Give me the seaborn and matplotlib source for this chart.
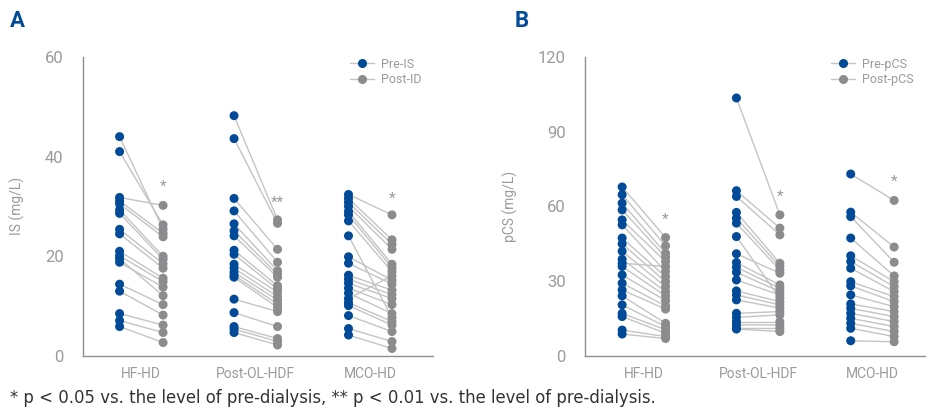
import matplotlib.pyplot as plt
import numpy as np
import pandas as pd
import seaborn as sns
from matplotlib.lines import Line2D

groups = ["HF-HD", "Post-OL-HDF", "MCO-HD"]

# Panel A: IS (mg/L), pre / post, paired in order
is_hf_pre = [44.0, 41.0, 31.8, 31.1, 30.5, 29.3, 28.6, 25.4, 24.5, 21.0, 20.1, 18.8, 19.5, 14.4, 13.0, 8.5, 7.1, 5.9]
is_hf_post = [25.4, 26.3, 30.2, 24.6, 23.9, 20.0, 19.4, 18.5, 17.6, 15.6, 14.9, 13.8, 12.1, 10.3, 8.2, 6.2, 4.7, 2.7]
is_ol_pre = [48.2, 43.6, 31.6, 29.1, 26.5, 25.1, 24.1, 21.2, 20.4, 18.4, 17.6, 16.8, 16.2, 15.8, 11.4, 8.7, 5.9, 5.4, 4.7]
is_ol_post = [27.3, 26.6, 21.4, 18.8, 17.1, 16.4, 15.8, 14.1, 13.4, 12.8, 11.9, 11.2, 10.4, 9.7, 8.9, 5.9, 3.5, 2.9, 2.2]
is_mco_pre = [32.4, 31.6, 30.8, 30.0, 29.0, 28.3, 27.1, 24.1, 19.9, 18.6, 16.2, 15.4, 14.6, 13.6, 12.6, 11.5, 10.7, 10.1, 8.1, 5.5, 4.2]
is_mco_post = [28.3, 23.3, 22.4, 21.4, 18.4, 17.7, 16.9, 7.7, 15.2, 14.4, 13.2, 12.3, 11.5, 10.3, 8.5, 16.1, 6.9, 6.2, 4.9, 2.9, 1.5]

# Panel B: pCS (mg/L), pre / post, paired in order
pcs_hf_pre = [67.8, 64.7, 61.3, 58.6, 54.6, 52.6, 47.3, 45.0, 42.0, 38.8, 37.2, 35.9, 32.5, 29.2, 26.5, 24.1, 20.5, 17.1, 15.8, 10.4, 8.8]
pcs_hf_post = [47.5, 44.2, 41.2, 39.6, 37.9, 33.9, 31.8, 29.8, 27.8, 25.8, 35.9, 24.1, 22.2, 20.1, 18.8, 13.1, 11.8, 10.5, 9.1, 7.8, 7.0]
pcs_ol_pre = [103.5, 66.3, 64.0, 57.6, 55.3, 53.3, 47.9, 41.0, 37.5, 35.6, 33.6, 30.5, 26.1, 24.5, 22.5, 17.1, 15.5, 13.8, 12.5, 11.1, 10.8]
pcs_ol_post = [56.6, 51.3, 48.6, 37.2, 35.9, 34.5, 23.2, 33.2, 28.5, 27.2, 25.8, 24.5, 21.8, 20.5, 19.2, 17.8, 16.5, 13.8, 12.4, 11.1, 9.8]
pcs_mco_pre = [73.0, 57.7, 55.9, 47.3, 40.2, 37.9, 35.2, 29.8, 28.1, 24.5, 20.9, 19.1, 17.1, 15.1, 13.1, 11.1, 6.1]
pcs_mco_post = [62.4, 43.7, 37.6, 32.1, 29.8, 27.8, 25.8, 23.8, 21.8, 19.8, 17.8, 15.8, 13.8, 11.8, 9.8, 7.8, 5.7]

# significance marks above the post-dialysis column
is_stars = ["*", "**", "*"]
is_star_y = [34.0, 30.8, 31.6]
pcs_stars = ["*", "*", "*"]
pcs_star_y = [54.5, 64.0, 70.0]

BLUE = "#004a97"
DOT_GRAY = "#8c8c8e"
LINE_GRAY = "#c4c4c4"
TEXT_GRAY = "#9b9b9b"
AXIS_GRAY = "#8f8f8f"

sns.set_style("white")
plt.rcParams["font.family"] = ["Roboto", "DejaVu Sans"]


def long_table(pre_lists, post_lists):
    rows = []
    for g, (pre, post) in enumerate(zip(pre_lists, post_lists)):
        for i, (a, b) in enumerate(zip(pre, post)):
            rows.append({"pair": f"{g}-{i}", "time": "pre", "x": g - 0.19, "value": a})
            rows.append({"pair": f"{g}-{i}", "time": "post", "x": g + 0.19, "value": b})
    return pd.DataFrame(rows)


def draw_panel(ax, df, ymax, step, ylabel, stars, star_y, legend_labels, xlim):
    sns.lineplot(data=df, x="x", y="value", units="pair", estimator=None,
                 color=LINE_GRAY, linewidth=1.0, ax=ax, legend=False, zorder=1)
    sns.scatterplot(data=df, x="x", y="value", hue="time",
                    palette={"pre": BLUE, "post": DOT_GRAY},
                    s=42, linewidth=0, ax=ax, legend=False, zorder=2)
    for g, (s, y) in enumerate(zip(stars, star_y)):
        ax.text(g + 0.19, y, s, ha="center", va="center", color=TEXT_GRAY, fontsize=11)

    ax.set_xlim(*xlim)
    ax.set_ylim(0, ymax)
    ax.set_xticks(range(len(groups)))
    ax.set_xticklabels(groups)
    ax.set_yticks(np.arange(0, ymax + 1, step))
    ax.set_xlabel("")
    ax.set_ylabel(ylabel, color=TEXT_GRAY, fontsize=10, labelpad=14)
    ax.tick_params(axis="x", length=0, pad=8, labelsize=10, labelcolor=TEXT_GRAY)
    ax.tick_params(axis="y", length=8, width=1.0, color=AXIS_GRAY, pad=6,
                   labelsize=12, labelcolor=TEXT_GRAY, direction="out")
    for side in ["top", "right"]:
        ax.spines[side].set_visible(False)
    for side in ["left", "bottom"]:
        ax.spines[side].set_color(AXIS_GRAY)
        ax.spines[side].set_linewidth(1.0)

    handles = [
        Line2D([0], [0], color=LINE_GRAY, lw=1.0, marker="o", markersize=5.5,
               markerfacecolor=BLUE, markeredgecolor=BLUE),
        Line2D([0], [0], color=LINE_GRAY, lw=1.0, marker="o", markersize=5.5,
               markerfacecolor=DOT_GRAY, markeredgecolor=DOT_GRAY),
    ]
    ax.legend(handles, legend_labels, loc="upper right", bbox_to_anchor=(1.0, 1.035),
              frameon=False, fontsize=9, handlelength=1.9, handletextpad=0.6,
              labelspacing=0.2, labelcolor=TEXT_GRAY)


fig = plt.figure(figsize=(9.29, 4.12), dpi=100)
ax_a = fig.add_axes([0.0893, 0.136, 0.377, 0.726])
ax_b = fig.add_axes([0.6297, 0.136, 0.366, 0.726])

df_is = long_table([is_hf_pre, is_ol_pre, is_mco_pre], [is_hf_post, is_ol_post, is_mco_post])
df_pcs = long_table([pcs_hf_pre, pcs_ol_pre, pcs_mco_pre], [pcs_hf_post, pcs_ol_post, pcs_mco_post])

draw_panel(ax_a, df_is, 60, 20, "IS (mg/L)", is_stars, is_star_y, ["Pre-IS", "Post-ID"], (-0.51, 2.55))
draw_panel(ax_b, df_pcs, 120, 30, "pCS (mg/L)", pcs_stars, pcs_star_y, ["Pre-pCS", "Post-pCS"], (-0.515, 2.46))

fig.text(0.011, 0.95, "A", color=BLUE, fontsize=16, fontweight="bold", va="center")
fig.text(0.554, 0.95, "B", color=BLUE, fontsize=16, fontweight="bold", va="center")
fig.text(0.011, 0.035, "* p < 0.05 vs. the level of pre-dialysis, ** p < 0.01 vs. the level of pre-dialysis.",
         color="#333333", fontsize=11.9, va="center", family=["DejaVu Sans"])

fig.savefig("out.png", dpi=100)
